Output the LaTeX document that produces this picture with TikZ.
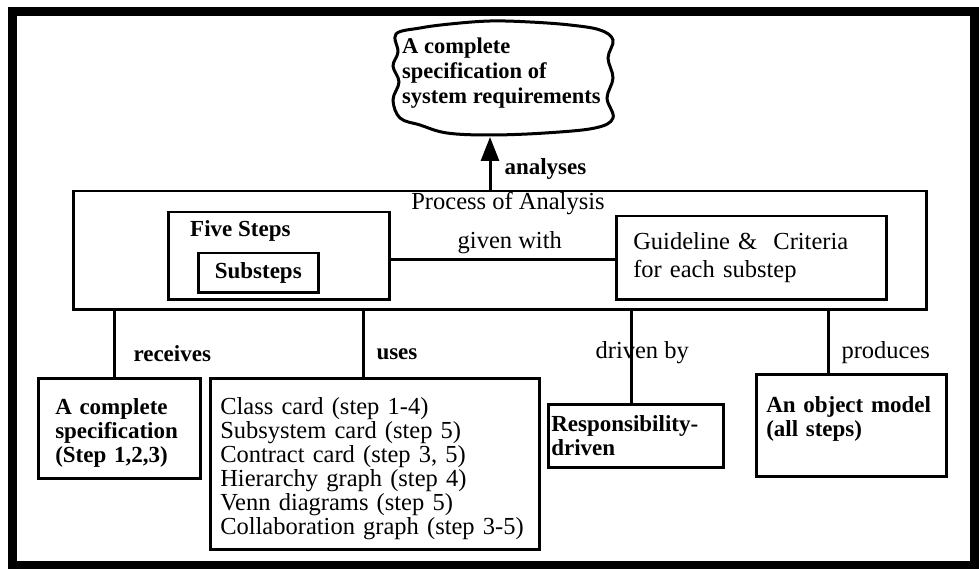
\documentclass[tikz,border=0pt]{standalone}
\usepackage{fontspec}
\setmainfont{Liberation Serif}
\usetikzlibrary{arrows.meta, positioning}
\newcommand{\boxfont}{\fontsize{24.5}{24}\selectfont}
\newcommand{\heavyfont}{\fontsize{23}{24}\selectfont\bfseries}

\begin{document}
\begin{tikzpicture}[
    x=1pt, y=-1pt,
    every node/.style={font=\boxfont},
    box/.style={rectangle, draw, line width=2.5pt, anchor=north west, align=left, inner xsep=10pt, inner ysep=0pt},
    boldbox/.style={box, font=\heavyfont},
    lab/.style={inner sep=0pt},
    boldlab/.style={lab, font=\heavyfont},
    link/.style={line width=2.5pt},
    arrow/.style={-{Triangle[width=18pt,length=24pt]}, line width=3pt}
]
    \useasboundingbox (0,0) rectangle (979,569);
    \draw[line width=9pt] (12,12) rectangle (974,565);

    % Goal
    \node[lab, anchor=north west, align=left, font=\fontsize{22.5}{25}\selectfont\bfseries] (spec) at (402,38) {A complete\\specification of\\system requirements};
    \draw[line width=3pt] plot[smooth cycle, tension=0.6] coordinates {
        (396,34) (420,28) (450,24) (490,21) (530,22) (570,25) (600,30) (613,40)
        (608,58) (613,78) (607,98) (613,118) (595,128) (545,133) (490,135)
        (447,133) (420,125) (400,118) (393,100) (399,82) (393,66) (398,52)};
    \coordinate (cloudbot) at (490,137);

    % Process of analysis
    \node[box, minimum width=853pt, minimum height=118pt] (proc) at (72,190) {};
    \node[lab] (proctitle) at (508,204) {Process of Analysis};
    \node[box, minimum width=221pt, minimum height=87pt] (five) at (167,211) {};
    \node[boldlab, anchor=west] (fivetitle) at (190,231) {Five Steps};
    \node[boldbox, minimum width=120pt, minimum height=39pt, align=center] (sub) at (197,252) {Substeps};
    \node[box, minimum width=270pt, minimum height=83pt, text width=236pt, inner xsep=17pt] (guide) at (615,215) {Guideline \& ~Criteria\\[4pt]for each substep};

    % Results
    \node[boldbox, minimum width=162pt, minimum height=100pt, text width=128pt, inner xsep=17pt, text depth=43pt] (cspec) at (37,377) {A complete\\specification\\(Step 1,2,3)};
    \node[box, minimum width=329pt, minimum height=171pt, text width=309pt, text depth=115pt] (cards) at (209,377) {Class card (step 1-4)\\Subsystem card (step 5)\\Contract card (step 3, 5)\\Hierarchy graph (step 4)\\Venn diagrams (step 5)\\Collaboration graph (step 3-5)};
    \node[boldbox, minimum width=175pt, minimum height=63pt, text width=169pt, inner xsep=3pt] (resp) at (547,403) {Responsibility-\\driven};
    \node[boldbox, minimum width=190pt, minimum height=102pt, text width=170pt, text depth=41pt] (objm) at (755,373) {An object model\\(all steps)};

    \coordinate (rcv) at ([xshift=-5pt]cspec.north);
    \coordinate (use) at ([xshift=-11.5pt]cards.north);
    \coordinate (drv) at ([xshift=-4.5pt]resp.north);
    \coordinate (prd) at ([xshift=-23pt]objm.north);

    % Connectors
    \draw[arrow] (proc.north -| cloudbot) -- (cloudbot) node[boldlab, pos=0.4, right=13pt] {analyses};
    \draw[link] ([yshift=-4pt]five.east) -- ([yshift=-4pt]five.east -| guide.west) node[lab, midway, above=5pt, xshift=7pt] {given with};
    \draw[link] (proc.south -| rcv) -- (rcv) node[boldlab, pos=0.65, right=18pt] {receives};
    \draw[link] (proc.south -| use) -- (use) node[boldlab, pos=0.65, right=12pt] {uses};
    \draw[link] (proc.south -| drv) -- (drv) node[lab, pos=0.46, xshift=11pt] {driven by};
    \draw[link] (proc.south -| prd) -- (prd) node[lab, pos=0.68, right=12pt] {produces};
\end{tikzpicture}
\end{document}
